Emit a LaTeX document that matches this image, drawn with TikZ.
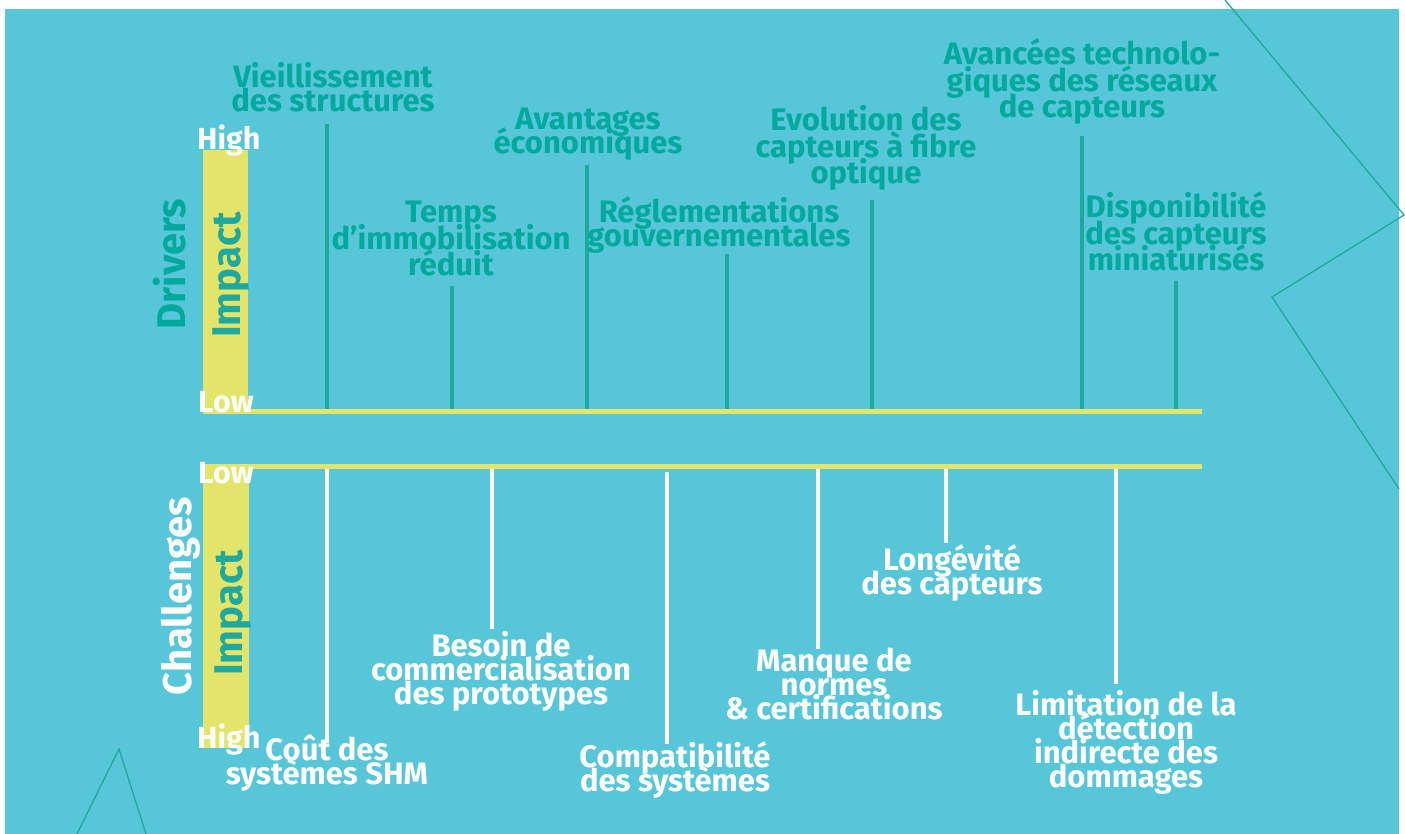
\documentclass[tikz,border=0pt]{standalone}
\usepackage{fontspec}
\setmainfont{Fira Sans}
\definecolor{bgcyan}{HTML}{57C6D8}
\definecolor{tealtxt}{HTML}{00A99D}
\definecolor{tealline}{HTML}{1FA89E}
\definecolor{ylw}{HTML}{E2E56A}
\newcommand\lblfont{\bfseries\fontsize{31}{24}\selectfont\lineskiplimit-60pt\relax}
\newcommand\loosefont{\bfseries\fontsize{31}{26.5}\selectfont\lineskiplimit-60pt\relax}
\tikzset{
  lbl/.style={font=\lblfont, align=center, inner sep=0pt, anchor=base},
  loose/.style={font=\loosefont},
  drv/.style={lbl, text=tealtxt},
  chl/.style={lbl, text=white},
  tick/.style={font=\bfseries\fontsize{30.5}{30}\selectfont, text=white, inner sep=0pt, anchor=base west},
  side/.style={font=\bfseries\fontsize{40}{40}\selectfont, inner sep=0pt, anchor=base, rotate=90},
  drvline/.style={draw=tealline, line width=4pt},
  chlline/.style={draw=white, line width=4pt},
  deco/.style={draw=tealline, line width=1.3pt},
}
\begin{document}
\begin{tikzpicture}[x=1pt,y=-1pt]
\useasboundingbox (0,0) rectangle (1405,834);
\fill[white] (0,0) rectangle (1405,834);
\fill[bgcyan] (5,9) rectangle (1399,834);
% decorative outlines
\draw[deco] (1225,0) -- (1404,215) -- (1272,297) -- (1399,489);
\draw[deco] (77,834) -- (119,749) -- (146,834);
% yellow impact bars and axes
\fill[ylw] (203,150) rectangle (248,414);
\fill[ylw] (203,464) rectangle (249,748);
\fill[ylw] (248,409) rectangle (1202,414);
\fill[ylw] (249,464) rectangle (1202,469);
\coordinate (axU) at (248,409);
\coordinate (axL) at (249,469);
% drivers lines
\coordinate (d1) at (327,124);
\coordinate (d2) at (452,286);
\coordinate (d3) at (587,165);
\coordinate (d4) at (727,254);
\coordinate (d5) at (872,200);
\coordinate (d6) at (1082,136);
\coordinate (d7) at (1176,281);
\foreach \p in {d1,d2,d3,d4,d5,d6,d7} \draw[drvline] (\p) -- (\p |- axU);
% challenges lines
\coordinate (c1) at (327,743);
\coordinate (c2) at (492,629);
\coordinate (c3) at (667,744);
\coordinate (c4) at (818,649);
\coordinate (c5) at (946,543);
\coordinate (c6) at (1116,684);
\foreach \p in {c1,c2,c4,c5,c6} \draw[chlline] (\p |- axL) -- (\p);
\draw[chlline] ([yshift=-3pt]c3 |- axL) -- (c3);
% drivers labels (anchor = baseline of last line)
\node[drv] (t1) at (333,112) {Vieillissement\\des structures};
\node[drv, loose] (t2) at (451,276) {Temps\\d’immobilisation\\réduit};
\node[drv] (t3) at (588,154) {Avantages\\économiques};
\node[drv] (t4) at (719,247) {Réglementations\\gouvernementales};
\node[drv, loose] (t5) at (866,184) {Evolution des\\capteurs à fibre\\optique};
\node[drv, loose] (t6) at (1082,118) {Avancées technolo-\\giques des réseaux\\de capteurs};
\node[drv, loose] (t7) at (1176,271) {Disponibilité\\des capteurs\\miniaturisés};
% challenges labels
\node[chl] (b1) at (327,784) {Coût des\\systèmes SHM};
\node[chl] (b2) at (501,704) {Besoin de\\commercialisation\\des prototypes};
\node[chl] (b3) at (675,791) {Compatibilité\\des systèmes};
\node[chl] (b4) at (834,719) {Manque de\\normes\\\& certifications};
\node[chl] (b5) at (952,594) {Longévité\\des capteurs};
\node[chl] (b6) at (1126,787) {Limitation de la\\détection\\indirecte des\\dommages};
% side labels
\node[side, text=tealtxt] (drivers) at (185,264) {Drivers};
\node[side, text=white] (challenges) at (191,596) {Challenges};
\node[side, text=tealline] (impU) at (240,275) {Impact};
\node[side, text=tealline] (impL) at (242,613) {Impact};
% scale ticks
\node[tick] (highU) at (197,150) {High};
\node[tick] (lowU) at (198,412) {Low};
\node[tick] (lowL) at (198,483) {Low};
\node[tick] (highL) at (197,748) {High};
\end{tikzpicture}
\end{document}
